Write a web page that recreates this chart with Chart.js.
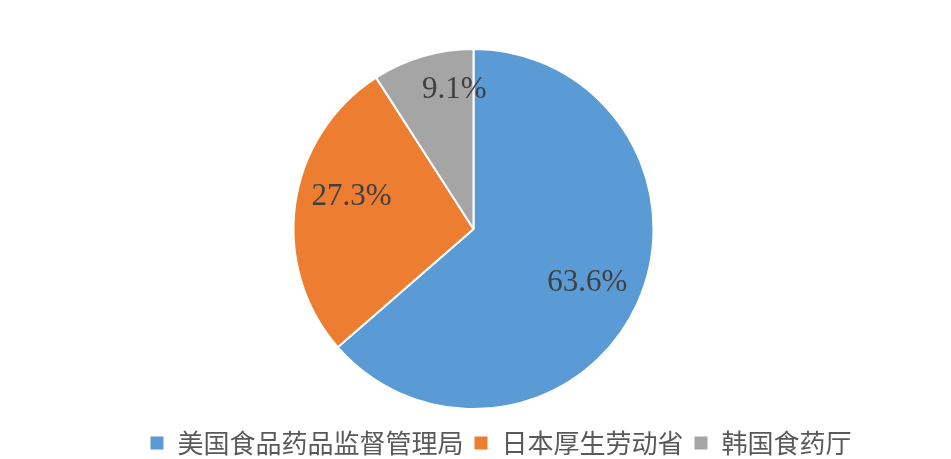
<!DOCTYPE html>
<html>
<head>
<meta charset="utf-8">
<script src="https://cdn.jsdelivr.net/npm/chart.js@4"></script>
<style>
  html, body { margin: 0; padding: 0; background: #fff; }
  #wrap { width: 951px; height: 459px; }
</style>
</head>
<body>
<div id="wrap"><canvas id="chart"></canvas></div>
<script>
const labels = ["美国食品药品监督管理局", "日本厚生劳动省", "韩国食药厅"];
const values = [63.6, 27.3, 9.1];
const colors = ["#5B9BD5", "#ED7D31", "#A5A5A5"];

// draws the percentage inside each slice ("best fit" style placement)
const sliceLabels = {
  id: "sliceLabels",
  afterDatasetsDraw(chart, args, opts) {
    const ctx = chart.ctx;
    const meta = chart.getDatasetMeta(0);
    ctx.save();
    ctx.font = '31px "Liberation Serif", "Times New Roman", serif';
    ctx.fillStyle = "#404040";
    ctx.textAlign = "center";
    ctx.textBaseline = "middle";
    meta.data.forEach((arc, i) => {
      const p = arc.getProps(["x", "y", "startAngle", "endAngle", "outerRadius"], true);
      const place = opts.place[i];
      const mid = (p.startAngle + p.endAngle) / 2 + place.da * Math.PI / 180;
      const r = p.outerRadius * place.r;
      ctx.fillText(values[i].toFixed(1) + "%", p.x + Math.cos(mid) * r, p.y + Math.sin(mid) * r);
    });
    ctx.restore();
  }
};

// nudge the legend a bit right/down like the original
const legendShift = {
  id: "legendShift",
  afterLayout(chart, args, opts) {
    const lg = chart.legend;
    if (!lg) return;
    lg.left += opts.dx; lg.right += opts.dx;
    lg.top += opts.dy; lg.bottom += opts.dy;
  }
};

new Chart(document.getElementById("chart"), {
  type: "pie",
  data: {
    labels: labels,
    datasets: [{
      data: values,
      backgroundColor: colors,
      borderColor: "#ffffff",
      borderWidth: 2
    }]
  },
  options: {
    responsive: true,
    maintainAspectRatio: false,
    animation: false,
    layout: { padding: { top: 48, bottom: 3, left: 0, right: 4 } },
    plugins: {
      tooltip: { enabled: false },
      sliceLabels: {
        place: [{ r: 0.7, da: 1 }, { r: 0.7, da: 6.6 }, { r: 0.78, da: 8.5 }]
      },
      legendShift: { dx: 27, dy: 10 },
      legend: {
        position: "bottom",
        labels: {
          boxWidth: 15,
          boxHeight: 15,
          padding: 10,
          color: "#595959",
          font: { size: 26, family: '"Noto Sans CJK SC", sans-serif' }
        }
      }
    }
  },
  plugins: [sliceLabels, legendShift]
});
</script>
</body>
</html>
